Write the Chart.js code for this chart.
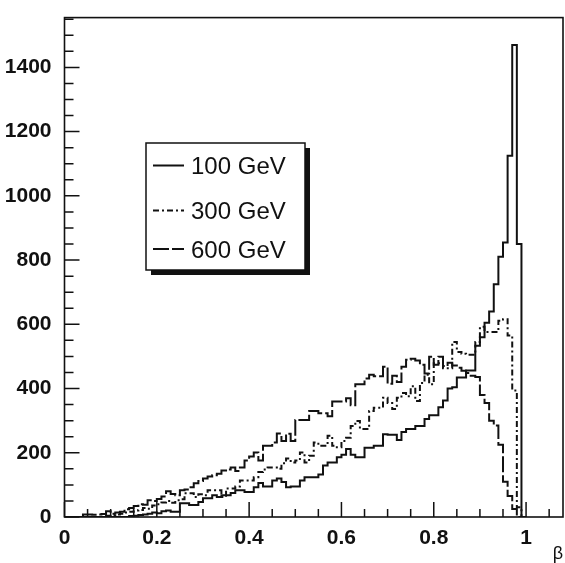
<!DOCTYPE html>
<html>
<head>
<meta charset="utf-8">
<script src="https://cdn.jsdelivr.net/npm/chart.js@4.4.1/dist/chart.umd.min.js"></script>
<style>
  html, body { margin: 0; padding: 0; background: #fff; }
  #wrap { width: 565px; height: 563px; }
</style>
</head>
<body>
<div id="wrap"><canvas id="c" width="565" height="563"></canvas></div>
<script>
// Histogram binning in beta (bins of 0.01 from 0 to 1)
const binWidth = 0.01;

const seriesLabels = ['100 GeV', '300 GeV', '600 GeV'];

// Entries per bin, 100 bins from beta = 0.00 to 1.00
const h100 = [
  0, 0, 0, 0, 0, 0, 0, 0, 0, 0,
  0, 0, 0, 0, 0, 3, 4, 6, 8, 10,
  14, 12, 18, 20, 16, 16, 43, 43, 37, 37,
  47, 58, 58, 68, 62, 68, 68, 75, 83, 83,
  78, 78, 93, 106, 95, 95, 114, 120, 109, 93,
  95, 95, 114, 124, 124, 124, 132, 160, 170, 170,
  186, 194, 212, 194, 186, 186, 216, 216, 222, 222,
  258, 256, 256, 240, 265, 274, 274, 283, 283, 305,
  317, 317, 342, 363, 400, 404, 434, 434, 456, 456,
  533, 560, 605, 640, 725, 810, 855, 1125, 1470, 850
];

const h300 = [
  0, 0, 0, 0, 0, 0, 0, 0, 0, 0,
  4, 6, 8, 10, 14, 16, 20, 22, 28, 26,
  36, 40, 45, 50, 44, 52, 55, 74, 74, 62,
  71, 68, 83, 83, 83, 62, 89, 89, 95, 114,
  114, 114, 124, 140, 148, 154, 154, 150, 167, 182,
  170, 176, 201, 170, 191, 232, 222, 222, 253, 222,
  217, 237, 247, 283, 299, 274, 274, 330, 340, 340,
  371, 355, 336, 371, 386, 376, 407, 361, 417, 443,
  413, 479, 479, 463, 463, 545, 514, 508, 505, 505,
  545, 592, 576, 576, 576, 611, 616, 565, 394, 30
];

const h600 = [
  0, 0, 0, 0, 0, 8, 8, 7, 8, 9,
  18, 10, 14, 16, 24, 28, 34, 40, 38, 52,
  50, 56, 64, 80, 72, 68, 83, 86, 93, 105,
  112, 120, 126, 130, 135, 145, 148, 154, 143, 154,
  176, 188, 201, 176, 222, 222, 232, 260, 237, 259,
  237, 302, 302, 302, 330, 330, 323, 323, 314, 360,
  360, 360, 370, 348, 413, 413, 431, 443, 438, 438,
  468, 415, 440, 420, 468, 490, 493, 487, 474, 447,
  499, 474, 499, 470, 480, 472, 465, 455, 448, 440,
  436, 380, 355, 300, 285, 225, 110, 65, 25, 0
];

// Axis ticks
const xTickValues = [0, 0.2, 0.4, 0.6, 0.8, 1];
const yTickValues = [0, 200, 400, 600, 800, 1000, 1200, 1400];

const lineStyles = [[], [6, 3, 2, 3], [16, 3]];

// Step outline: one point per bin low edge, closed at the upper edge
function stepPoints(values) {
  const pts = values.map((v, i) => ({ x: +(i * binWidth).toFixed(2), y: v }));
  pts.push({ x: +(values.length * binWidth).toFixed(2), y: 0 });
  return pts;
}

const seriesValues = [h100, h300, h600];
const datasets = seriesValues.map((vals, k) => ({
  label: seriesLabels[k],
  data: stepPoints(vals),
  stepped: 'after',
  borderColor: '#111',
  borderWidth: 2,
  borderDash: lineStyles[k],
  borderJoinStyle: 'miter',
  pointRadius: 0,
  fill: false,
  tension: 0
}));

// Frame and inward tick marks
const framePlugin = {
  id: 'frameTicks',
  afterDatasetsDraw(chart) {
    const { ctx, chartArea: a, scales: { x, y } } = chart;
    ctx.save();
    ctx.strokeStyle = '#111';
    ctx.lineWidth = 1.6;
    ctx.strokeRect(a.left, a.top, a.right - a.left, a.bottom - a.top);
    ctx.lineWidth = 1.5;
    ctx.beginPath();
    for (let i = 0; i * 0.05 <= x.max + 1e-9; i++) {
      const v = i * 0.05;
      const px = x.getPixelForValue(v);
      const len = (i % 4 === 0) ? 15 : 8;
      ctx.moveTo(px, a.bottom);
      ctx.lineTo(px, a.bottom - len);
    }
    for (let i = 0; i * 50 <= y.max; i++) {
      const v = i * 50;
      const py = y.getPixelForValue(v);
      const len = (i % 4 === 0) ? 15 : 9;
      ctx.moveTo(a.left, py);
      ctx.lineTo(a.left + len, py);
    }
    ctx.stroke();
    ctx.restore();
  }
};

// Boxed legend with drop shadow
const legendPlugin = {
  id: 'boxLegend',
  afterDraw(chart) {
    const { ctx } = chart;
    const bx = 146, by = 143, bw = 159, bh = 127;
    ctx.save();
    ctx.fillStyle = '#111';
    ctx.fillRect(bx + 5, by + 5, bw, bh);
    ctx.fillStyle = '#fff';
    ctx.fillRect(bx, by, bw, bh);
    ctx.strokeStyle = '#111';
    ctx.lineWidth = 1.5;
    ctx.strokeRect(bx, by, bw, bh);
    const rows = [165.5, 210.5, 249];
    ctx.font = '24px "Liberation Sans", Arial, sans-serif';
    ctx.textBaseline = 'alphabetic';
    ctx.textAlign = 'left';
    chart.data.datasets.forEach((ds, i) => {
      const cy = rows[i];
      ctx.beginPath();
      ctx.setLineDash(ds.borderDash);
      ctx.lineWidth = 2;
      ctx.strokeStyle = '#111';
      ctx.moveTo(153, cy);
      ctx.lineTo(184, cy);
      ctx.stroke();
      ctx.setLineDash([]);
      ctx.fillStyle = '#111';
      ctx.fillText(ds.label, 191, cy + 8.5);
    });
    ctx.restore();
  }
};

const tickFont = { family: '"Liberation Sans", Arial, sans-serif', size: 21, weight: 'bold' };

new Chart(document.getElementById('c'), {
  type: 'line',
  data: { datasets },
  options: {
    responsive: false,
    animation: false,
    layout: { padding: { left: 0, right: 2, top: 12.5, bottom: 0 } },
    plugins: { legend: { display: false }, tooltip: { enabled: false } },
    scales: {
      x: {
        type: 'linear',
        min: 0,
        max: 1.08,
        grid: { display: false },
        border: { display: false },
        afterFit(s) { s.height = 46; },
        afterBuildTicks(s) { s.ticks = xTickValues.map(v => ({ value: v })); },
        ticks: {
          color: '#111',
          font: tickFont,
          padding: 1,
          maxRotation: 0,
          autoSkip: false,
          callback: v => String(v)
        },
        title: {
          display: true,
          text: 'β',
          align: 'end',
          color: '#111',
          font: { family: '"Liberation Sans", Arial, sans-serif', size: 18, lineHeight: 1 },
          padding: 0
        }
      },
      y: {
        type: 'linear',
        min: 0,
        max: 1555,
        grid: { display: false },
        border: { display: false },
        afterFit(s) { s.width = 64.5; },
        afterBuildTicks(s) { s.ticks = yTickValues.map(v => ({ value: v })); },
        ticks: {
          color: '#111',
          font: tickFont,
          padding: 5,
          autoSkip: false,
          callback: v => String(v)
        }
      }
    }
  },
  plugins: [framePlugin, legendPlugin]
});
</script>
</body>
</html>
